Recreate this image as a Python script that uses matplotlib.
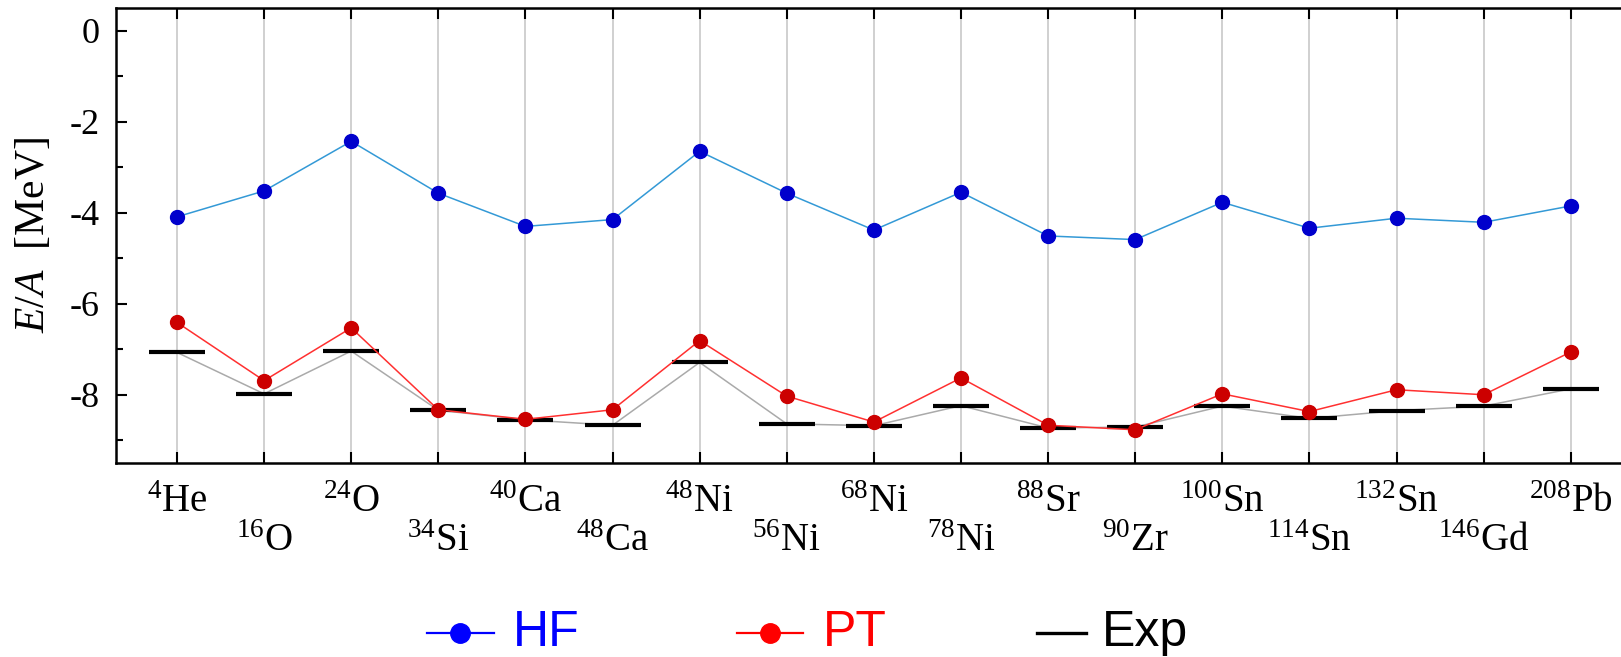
import matplotlib
matplotlib.use('Agg')
import matplotlib.pyplot as plt
from matplotlib.lines import Line2D
from matplotlib.ticker import MultipleLocator
from matplotlib.transforms import blended_transform_factory
import numpy as np

plt.rcParams['font.family'] = ['Liberation Serif', 'DejaVu Serif']
plt.rcParams['mathtext.fontset'] = 'custom'
plt.rcParams['mathtext.rm'] = 'Liberation Serif'
plt.rcParams['mathtext.it'] = 'Liberation Serif:italic'

# nuclei (mass number, symbol)
mass = ['4', '16', '24', '34', '40', '48', '48', '56', '68', '78',
        '88', '90', '100', '114', '132', '146', '208']
element = ['He', 'O', 'O', 'Si', 'Ca', 'Ca', 'Ni', 'Ni', 'Ni', 'Ni',
           'Sr', 'Zr', 'Sn', 'Sn', 'Sn', 'Gd', 'Pb']

# E/A in MeV
hf = [-4.09, -3.52, -2.43, -3.57, -4.30, -4.15, -2.65, -3.57, -4.38, -3.55,
      -4.51, -4.59, -3.77, -4.34, -4.12, -4.21, -3.85]
pt = [-6.41, -7.69, -6.53, -8.33, -8.54, -8.33, -6.81, -8.03, -8.60, -7.63,
      -8.67, -8.77, -7.98, -8.37, -7.89, -8.00, -7.06]
exp = [-7.07, -7.98, -7.04, -8.34, -8.55, -8.67, -7.29, -8.64, -8.68, -8.24,
       -8.73, -8.71, -8.25, -8.52, -8.35, -8.25, -7.87]

W, H = 1621, 657
x = np.arange(len(mass))

fig = plt.figure(figsize=(W / 100, H / 100), dpi=100)
ax = fig.add_axes([116 / W, 1 - 463 / H, (1630 - 116) / W, (463 - 8) / H])

ax.set_xlim(-0.70, 16.68)
ax.set_ylim(-9.5, 0.5)

for xi in x:
    ax.axvline(xi, color='#c8c8c8', lw=1.2, zorder=0)

# experiment: gray connecting line + black bars
ax.plot(x, exp, color='#aaaaaa', lw=1.1, zorder=1)
ax.plot(x, exp, ls='none', marker='_', ms=40, mew=3.0, color='black', zorder=2)

ax.plot(x, pt, color='#ff3030', lw=1.1, zorder=3)
ax.plot(x, pt, ls='none', marker='o', ms=10, color='#cc0000', zorder=4)

ax.plot(x, hf, color='#3399d6', lw=1.1, zorder=3)
ax.plot(x, hf, ls='none', marker='o', ms=10, color='#0000cc', zorder=4)

ax.yaxis.set_minor_locator(MultipleLocator(1))
ax.set_yticks([0, -2, -4, -6, -8])
ax.set_yticklabels(['0', '-2', '-4', '-6', '-8'], fontsize=26)
ax.tick_params(axis='y', which='major', direction='in', length=8, width=1.5, right=False, pad=12)
ax.tick_params(axis='y', which='minor', direction='in', length=5, width=1.5, right=False)
ax.tick_params(axis='x', direction='in', length=8, width=1.5, top=True, labelbottom=False)

ax.set_xticks(x)
trans = blended_transform_factory(ax.transData, fig.transFigure)
for i in x:
    base = 512 if i % 2 == 0 else 551
    ax.text(i, 1 - base / H, r'$^{%s}$' % mass[i] + element[i], transform=trans,
            ha='center', va='baseline', fontsize=28)

ax.set_ylabel(r'$E/A$  [MeV]', fontsize=30)
ax.yaxis.set_label_coords(-0.0416, 0.5)

for s in ax.spines.values():
    s.set_linewidth(1.8)

# legend drawn by hand in pixel positions
line_y = 1 - 633 / H
text_y = 1 - 628 / H
sans = ['Liberation Sans', 'DejaVu Sans']
legend_items = [
    # line start, line end, marker x, text x, colour, label, marker
    (427, 494, 460, 513, '#0000ff', 'HF', True),
    (737, 803, 770, 823, '#ff0000', 'PT', True),
    (1037, 1086, None, 1102, 'black', 'Exp', False),
]
for x0, x1, xm, xt, col, lab, has_marker in legend_items:
    fig.add_artist(Line2D([x0 / W, x1 / W], [line_y, line_y], transform=fig.transFigure,
                          color=col, lw=1.6 if has_marker else 2.4))
    if has_marker:
        fig.add_artist(Line2D([xm / W], [line_y], transform=fig.transFigure, ls='none',
                              marker='o', ms=14, color=col))
    fig.text(xt / W, text_y, lab, color=col, fontsize=36, family=sans,
             ha='left', va='center_baseline')

fig.savefig('out.png', dpi=100)
